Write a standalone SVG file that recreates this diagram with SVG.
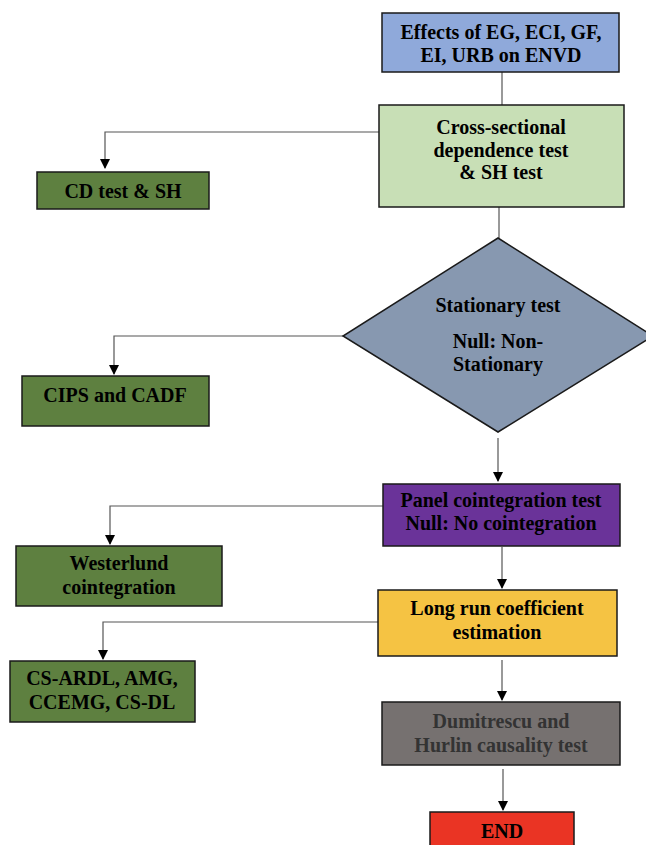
<svg xmlns="http://www.w3.org/2000/svg" width="646" height="845" viewBox="0 0 646 845">
<defs>
<style>
.box{stroke:#1a1a1a;stroke-width:1.5}
.t{font-family:"Liberation Serif","Times New Roman",serif;font-weight:bold;font-size:20px;text-anchor:middle;fill:#000}
.g{fill:#333}
.c{fill:none;stroke:#555;stroke-width:1.2}
</style>
<marker id="ah" markerWidth="10" markerHeight="10" refX="9" refY="5" orient="auto" markerUnits="userSpaceOnUse">
<path d="M0,0 L10,5 L0,10 z" fill="#000"/>
</marker>
</defs>
<rect width="646" height="845" fill="#fff"/>
<g id="connectors">
<path class="c" d="M502,72 V105"/>
<path class="c" d="M379,132 H105 V168" marker-end="url(#ah)"/>
<path class="c" d="M499,207 V238"/>
<path class="c" d="M343,336 H114 V374" marker-end="url(#ah)"/>
<path class="c" d="M498,438 V481" marker-end="url(#ah)"/>
<path class="c" d="M383,506 H110 V544" marker-end="url(#ah)"/>
<path class="c" d="M502,547 V588" marker-end="url(#ah)"/>
<path class="c" d="M378,622 H103 V659" marker-end="url(#ah)"/>
<path class="c" d="M502,660 V700" marker-end="url(#ah)"/>
<path class="c" d="M503,769 V810" marker-end="url(#ah)"/>
</g>
<g id="n1">
<rect class="box" x="382" y="13" width="237" height="59" fill="#8FA9DA"/>
<text class="t" x="501" y="39">Effects of EG, ECI, GF,</text>
<text class="t" x="501" y="62">EI, URB on ENVD</text>
</g>
<g id="n2">
<rect class="box" x="379" y="105" width="245" height="102" fill="#C8DFB6"/>
<text class="t" x="501" y="134">Cross-sectional</text>
<text class="t" x="501" y="157">dependence test</text>
<text class="t" x="501" y="179">&amp; SH test</text>
</g>
<g id="n3">
<rect class="box" x="37" y="172" width="172" height="37" fill="#5E8040"/>
<text class="t" x="123" y="198">CD test &amp; SH</text>
</g>
<g id="n4">
<polygon class="box" points="498,238 653,336 498,432 343,336" fill="#8798B0"/>
<text class="t" x="498" y="312">Stationary test</text>
<text class="t" x="498" y="348">Null: Non-</text>
<text class="t" x="498" y="371">Stationary</text>
</g>
<g id="n5">
<rect class="box" x="22" y="376" width="187" height="50" fill="#5E8040"/>
<text class="t" x="115" y="402">CIPS and CADF</text>
</g>
<g id="n6">
<rect class="box" x="383" y="484" width="237" height="62" fill="#6A3399"/>
<text class="t" x="501" y="507">Panel cointegration test</text>
<text class="t" x="501" y="530">Null: No cointegration</text>
</g>
<g id="n7">
<rect class="box" x="16" y="546" width="206" height="60" fill="#5E8040"/>
<text class="t" x="119" y="570">Westerlund</text>
<text class="t" x="119" y="594">cointegration</text>
</g>
<g id="n8">
<rect class="box" x="378" y="590" width="239" height="66" fill="#F5C343"/>
<text class="t" x="497" y="615">Long run coefficient</text>
<text class="t" x="497" y="639">estimation</text>
</g>
<g id="n9">
<rect class="box" x="10" y="661" width="185" height="61" fill="#5E8040"/>
<text class="t" x="102" y="685">CS-ARDL, AMG,</text>
<text class="t" x="102" y="709">CCEMG, CS-DL</text>
</g>
<g id="n10">
<rect class="box" x="382" y="702" width="238" height="63" fill="#767170"/>
<text class="t g" x="501" y="728">Dumitrescu and</text>
<text class="t g" x="501" y="752">Hurlin causality test</text>
</g>
<g id="n11">
<rect class="box" x="430" y="812" width="144" height="40" fill="#EA3424"/>
<text class="t" x="502" y="838">END</text>
</g>
</svg>
